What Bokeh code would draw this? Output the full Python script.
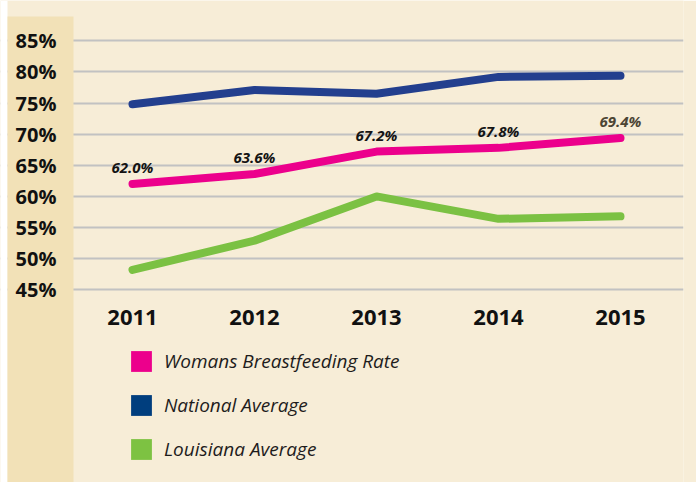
from bokeh.plotting import figure
from bokeh.models import FixedTicker, BoxAnnotation, Legend, LegendItem, ColumnDataSource
from bokeh.core.properties import value
from bokeh.embed import file_html
from bokeh.resources import INLINE

# ---- data ----
years = [2011, 2012, 2013, 2014, 2015]
womans_rate = [62.0, 63.6, 67.2, 67.8, 69.4]
national_avg = [74.8, 77.1, 76.5, 79.2, 79.4]
louisiana_avg = [48.2, 52.9, 60.0, 56.4, 56.8]
y_ticks = [45, 50, 55, 60, 65, 70, 75, 80, 85]
y_tick_labels = ["45%", "50%", "55%", "60%", "65%", "70%", "75%", "80%", "85%"]
x_tick_labels = ["2011", "2012", "2013", "2014", "2015"]
series_names = ["Womans Breastfeeding Rate", "National Average", "Louisiana Average"]

BG = "#f7edd7"
PANEL = "#f2e1b7"
PINK = "#ec008c"
BLUE = "#233f8e"
GREEN = "#7bc143"
LEG_BLUE = "#003e7e"
LEG_GREEN = "#7dc242"

# layout geometry (pixels -> data units)
PX_YEAR = 122.0          # px per year
PX_UNIT = 6.225          # px per percentage point
X0 = 2011 - 132 / PX_YEAR
X1 = 2015 + 63 / PX_YEAR
Y1 = 85 + 40.3 / PX_UNIT
Y0 = 45 - (482 - 289.3) / PX_UNIT
PANEL_L = 2011 - 125 / PX_YEAR
PANEL_R = 2011 - 59 / PX_YEAR
PANEL_T = 85 + 24.3 / PX_UNIT

p = figure(width=696, height=482, output_backend="svg", toolbar_location=None,
           x_range=(X0, X1), y_range=(Y0, Y1),
           min_border_left=0, min_border_right=13, min_border_top=0, min_border_bottom=0)
p.background_fill_color = BG
p.border_fill_color = BG
p.outline_line_color = None
p.xgrid.visible = False

# white strip at far left and the darker label panel
p.add_layout(BoxAnnotation(right=PANEL_L, fill_color="white", fill_alpha=1.0,
                           line_alpha=0, level="glyph"))
p.add_layout(BoxAnnotation(left=PANEL_L, right=PANEL_R, top=PANEL_T, fill_color=PANEL,
                           fill_alpha=1.0, line_alpha=0, level="glyph"))

# y axis
yax = p.yaxis[0]
yax.ticker = FixedTicker(ticks=y_ticks)
yax.major_label_overrides = {t: l for t, l in zip(y_ticks, y_tick_labels)}
yax.fixed_location = PANEL_R
yax.axis_line_color = None
yax.major_tick_line_color = None
yax.minor_tick_line_color = None
yax.major_label_standoff = 11
yax.major_label_text_font = "Open Sans"
yax.major_label_text_font_style = "bold"
yax.major_label_text_font_size = "20px"
yax.major_label_text_color = "#111111"

p.ygrid.ticker = FixedTicker(ticks=y_ticks)
p.ygrid.grid_line_color = "#c2c2c2"
p.ygrid.grid_line_width = 2

# x axis
xax = p.xaxis[0]
xax.ticker = FixedTicker(ticks=years)
xax.major_label_overrides = {y: l for y, l in zip(years, x_tick_labels)}
xax.fixed_location = 45
xax.axis_line_color = None
xax.major_tick_line_color = None
xax.minor_tick_line_color = None
xax.major_label_standoff = 14
xax.major_label_text_font = "Open Sans"
xax.major_label_text_font_style = "bold"
xax.major_label_text_font_size = "22px"
xax.major_label_text_color = "#111111"

# lines
p.line(years, national_avg, line_color=BLUE, line_width=8, line_cap="round", line_join="round")
p.line(years, womans_rate, line_color=PINK, line_width=8, line_cap="round", line_join="round")
p.line(years, louisiana_avg, line_color=GREEN, line_width=8, line_cap="round", line_join="round")

# point labels
label_colors = ["#141414"] * (len(years) - 1) + ["#4d4534"]
src = ColumnDataSource(dict(x=years, y=womans_rate,
                            t=[f"{v:.1f}%" for v in womans_rate], c=label_colors))
p.text(x="x", y="y", text="t", source=src, text_color="c",
       text_font=value("Open Sans"), text_font_style="bold italic",
       text_font_size="15px", text_align="center", text_baseline="alphabetic",
       y_offset=-17)

# legend swatches (quads with no drawable geometry)
nan = float("nan")
sw = []
for col in [PINK, LEG_BLUE, LEG_GREEN]:
    sw.append(p.quad(source=ColumnDataSource(dict(left=[nan], right=[nan], top=[nan], bottom=[nan])),
                     left="left", right="right", top="top", bottom="bottom",
                     fill_color=col, line_color=None))
legend = Legend(items=[LegendItem(label=n, renderers=[r]) for n, r in zip(series_names, sw)],
                location=(128, 20), orientation="vertical")
legend.glyph_width = 26
legend.glyph_height = 26
legend.label_height = 26
legend.spacing = 18
legend.label_standoff = 10
legend.padding = 0
legend.margin = 0
legend.border_line_alpha = 0
legend.background_fill_alpha = 0
legend.label_text_font = "Open Sans"
legend.label_text_font_style = "italic"
legend.label_text_font_size = "19px"
legend.label_text_color = "#1e1c1c"
p.add_layout(legend, "center")

open("out.html", "w").write(file_html(p, INLINE))
